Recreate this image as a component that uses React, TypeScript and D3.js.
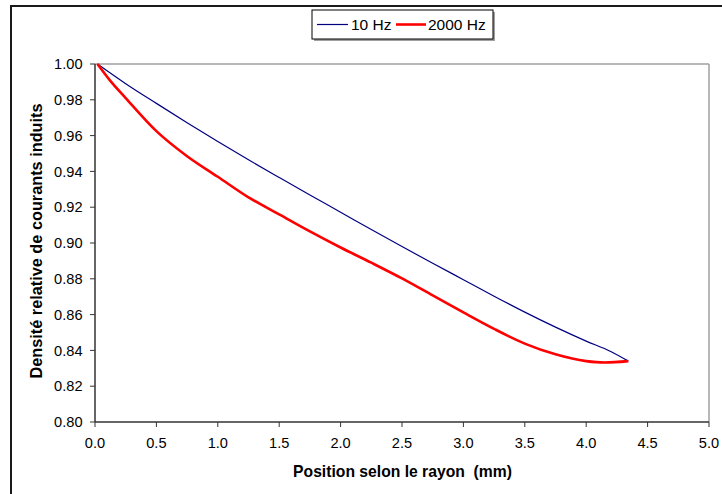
import React from "react";
import * as d3 from "d3";

const xTicks = [0, 0.5, 1, 1.5, 2, 2.5, 3, 3.5, 4, 4.5, 5];
const yTicks = [0.8, 0.82, 0.84, 0.86, 0.88, 0.9, 0.92, 0.94, 0.96, 0.98, 1.0];

const blueX = [0.02, 0.25, 0.5, 0.75, 1.0, 1.25, 1.5, 1.75, 2.0, 2.25, 2.5, 2.75, 3.0, 3.25, 3.5, 3.75, 4.0, 4.2, 4.343];
const blueY = [1.0, 0.989, 0.978, 0.9672, 0.9567, 0.9465, 0.9366, 0.9268, 0.9172, 0.9075, 0.898, 0.8887, 0.8795, 0.8703, 0.8614, 0.853, 0.8452, 0.8394, 0.834];

const redX = [0.02, 0.12, 0.25, 0.5, 0.75, 1.0, 1.25, 1.5, 1.75, 2.0, 2.25, 2.5, 2.75, 3.0, 3.25, 3.5, 3.75, 4.0, 4.15, 4.343];
const redY = [1.0, 0.991, 0.981, 0.9625, 0.9485, 0.937, 0.9255, 0.916, 0.9065, 0.8975, 0.889, 0.8802, 0.8707, 0.8612, 0.852, 0.8438, 0.8378, 0.834, 0.8332, 0.834];

const seriesNames = ["10 Hz", "2000 Hz"];

export default function App() {
  const W = 722, H = 494;
  const L = 95, R = 709, T = 64, B = 422;
  const x = d3.scaleLinear().domain([0, 5]).range([L, R]);
  const y = d3.scaleLinear().domain([0.8, 1.0]).range([B, T]);
  const line = d3.line<[number, number]>().x(d => x(d[0])).y(d => y(d[1])).curve(d3.curveMonotoneX);
  const blue = line(blueX.map((v, i) => [v, blueY[i]] as [number, number]))!;
  const red = line(redX.map((v, i) => [v, redY[i]] as [number, number]))!;
  const font = "Arial, 'Liberation Sans', sans-serif";
  return (
    <svg width={W} height={H} style={{ position: "absolute", left: 0, top: 0 }} fontFamily={font}>
      <rect x={0} y={0} width={W} height={H} fill="white" />
      <rect x={11} y={6} width={720} height={500} fill="none" stroke="#1a1a1a" strokeWidth={2} />
      <line x1={L} x2={R} y1={T} y2={T} stroke="#a0a0a0" strokeWidth={1.5} />
      <line x1={R} x2={R} y1={T} y2={B} stroke="#a0a0a0" strokeWidth={1.5} />
      <line x1={L} x2={L} y1={T} y2={B} stroke="#333" strokeWidth={1.5} />
      <line x1={L} x2={R} y1={B} y2={B} stroke="#333" strokeWidth={1.5} />
      {yTicks.map(t => (
        <g key={"y" + t}>
          <line x1={L - 5} x2={L} y1={y(t)} y2={y(t)} stroke="#333" strokeWidth={1} />
          <text x={82.5} y={y(t)} dy="0.36em" textAnchor="end" fontSize={14.6} fill="#000">{t.toFixed(2)}</text>
        </g>
      ))}
      {xTicks.map(t => (
        <g key={"x" + t}>
          <line x1={x(t)} x2={x(t)} y1={B} y2={B + 5} stroke="#333" strokeWidth={1} />
          <text x={x(t)} y={447.8} textAnchor="middle" fontSize={14.6} fill="#000">{t.toFixed(1)}</text>
        </g>
      ))}
      <text x={402.5} y={476.8} textAnchor="middle" fontSize={15.7} fontWeight="bold" fill="#000" style={{ whiteSpace: "pre" }}>Position selon le rayon  (mm)</text>
      <text transform={`translate(41.5,${(T + B) / 2 - 2}) rotate(-90)`} textAnchor="middle" fontSize={16.3} fontWeight="bold" fill="#000">Densité relative de courants induits</text>
      <path d={blue} fill="none" stroke="#000080" strokeWidth={1.2} />
      <path d={red} fill="none" stroke="#ff0000" strokeWidth={2.6} />
      <rect x={314} y={12} width={181} height={29} fill="#a0a0a0" />
      <rect x={312} y={10} width={181} height={29} fill="white" stroke="#000" strokeWidth={1} />
      <line x1={317} x2={348} y1={24.5} y2={24.5} stroke="#000080" strokeWidth={1.2} />
      <text x={351} y={30} fontSize={15.5} fill="#000">{seriesNames[0]}</text>
      <line x1={396} x2={426} y1={24.5} y2={24.5} stroke="#ff0000" strokeWidth={2.6} />
      <text x={428} y={30} fontSize={15.5} fill="#000">{seriesNames[1]}</text>
    </svg>
  );
}
